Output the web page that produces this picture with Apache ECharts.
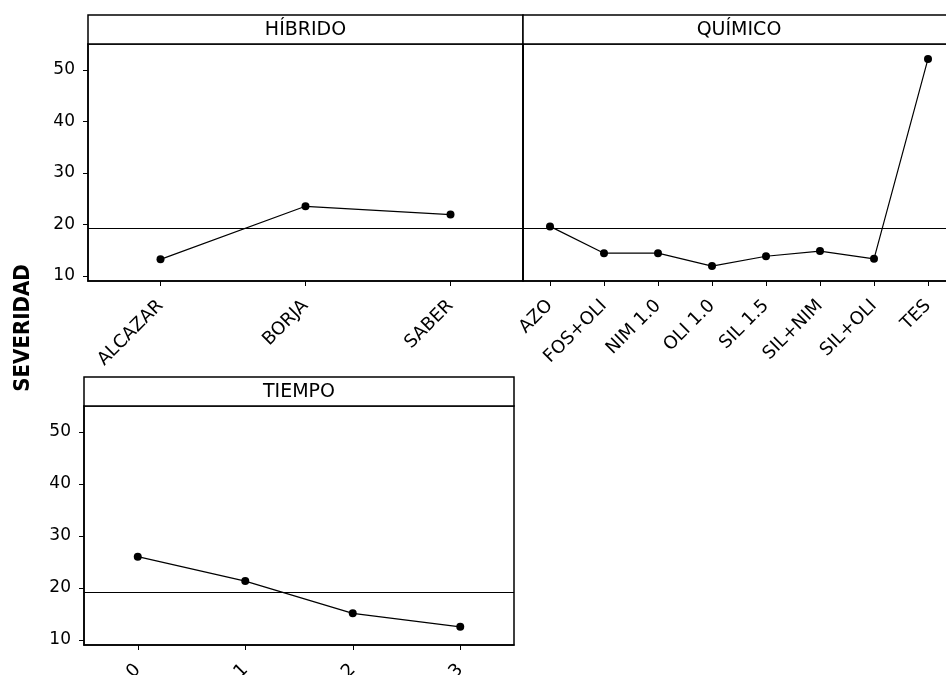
<!DOCTYPE html>
<html><head><meta charset="utf-8">
<script src="https://cdn.jsdelivr.net/npm/echarts@6/dist/echarts.min.js"></script>
<style>html,body{margin:0;padding:0;background:#fff}#c{width:946px;height:675px}</style>
</head><body><div id="c"></div>
<script>
// ---- data ----
const hibridoCats = ['ALCAZAR', 'BORJA', 'SABER'];
const hibridoVals = [13.2, 23.5, 21.9];
const quimicoCats = ['AZO', 'FOS+OLI', 'NIM 1.0', 'OLI 1.0', 'SIL 1.5', 'SIL+NIM', 'SIL+OLI', 'TES'];
const quimicoVals = [19.6, 14.4, 14.4, 11.9, 13.8, 14.8, 13.3, 52.1];
const tiempoCats = ['0', '1', '2', '3'];
const tiempoVals = [26.0, 21.3, 15.1, 12.5];
const grandMean = 19.2;
const yTicks = [10, 20, 30, 40, 50];
const panelTitles = ['HÍBRIDO', 'QUÍMICO', 'TIEMPO'];
const yName = 'SEVERIDAD';

// ---- layout ----
const FONT = 'DejaVu Sans';
const grids = [
  { left: 88, top: 44, width: 435, height: 237 },
  { left: 523, top: 44, width: 432, height: 237 },
  { left: 84, top: 406, width: 430, height: 239 }
];
const stripH = 29;
const cats = [hibridoCats, quimicoCats, tiempoCats];
const vals = [hibridoVals, quimicoVals, tiempoVals];
const showY = [true, false, true];

const chart = echarts.init(document.getElementById('c'), null, { renderer: 'canvas' });

const option = {
  backgroundColor: '#fff',
  animation: false,
  grid: grids.map(g => Object.assign({
    show: true, borderColor: '#000', borderWidth: 1.5, backgroundColor: 'transparent',
    containLabel: false, outerBoundsMode: 'none'
  }, g)),
  xAxis: cats.map((c, i) => ({
    type: 'category', gridIndex: i, data: c, boundaryGap: true,
    axisLine: { show: true, onZero: false, lineStyle: { color: '#000', width: 1.5 } },
    axisTick: { show: true, alignWithLabel: true, length: 5, lineStyle: { color: '#000' } },
    axisLabel: { interval: 0, rotate: 45, fontSize: 18, fontFamily: FONT, color: '#000', margin: 22 },
    splitLine: { show: false }
  })),
  yAxis: grids.map((g, i) => ({
    type: 'value', gridIndex: i, min: 9, max: 55,
    axisLine: { show: true, onZero: false, lineStyle: { color: '#000', width: 1.5 } },
    axisTick: { show: showY[i], customValues: yTicks, length: 5, lineStyle: { color: '#000' } },
    axisLabel: { show: showY[i], customValues: yTicks, fontSize: 17, fontFamily: FONT, color: '#000', margin: 13 },
    splitLine: { show: false }
  })),
  series: vals.map((v, i) => ({
    type: 'line', xAxisIndex: i, yAxisIndex: i, data: v,
    symbol: 'circle', symbolSize: 8,
    itemStyle: { color: '#000' },
    lineStyle: { color: '#000', width: 1.2 },
    markLine: {
      silent: true, symbol: 'none', label: { show: false },
      lineStyle: { color: '#000', width: 1.2, type: 'solid' },
      data: [{ yAxis: grandMean }]
    }
  })),
  graphic: [
    ...grids.map((g, i) => ({
      type: 'group',
      children: [
        { type: 'rect', shape: { x: g.left, y: g.top - stripH, width: g.width, height: stripH },
          style: { fill: '#fff', stroke: '#000', lineWidth: 1.5 } },
        { type: 'text', x: g.left + g.width / 2, y: g.top - stripH / 2 + 1,
          style: { text: panelTitles[i], font: '19px "' + FONT + '"', fill: '#000', textAlign: 'center', textVerticalAlign: 'middle' } }
      ]
    })),
    { type: 'text', x: 23, y: 328, rotation: Math.PI / 2,
      style: { text: yName, font: 'bold 22px "DejaVu Sans Condensed", "DejaVu Sans"', fill: '#000', textAlign: 'center', textVerticalAlign: 'middle' } }
  ]
};
chart.setOption(option);
</script>
</body></html>
